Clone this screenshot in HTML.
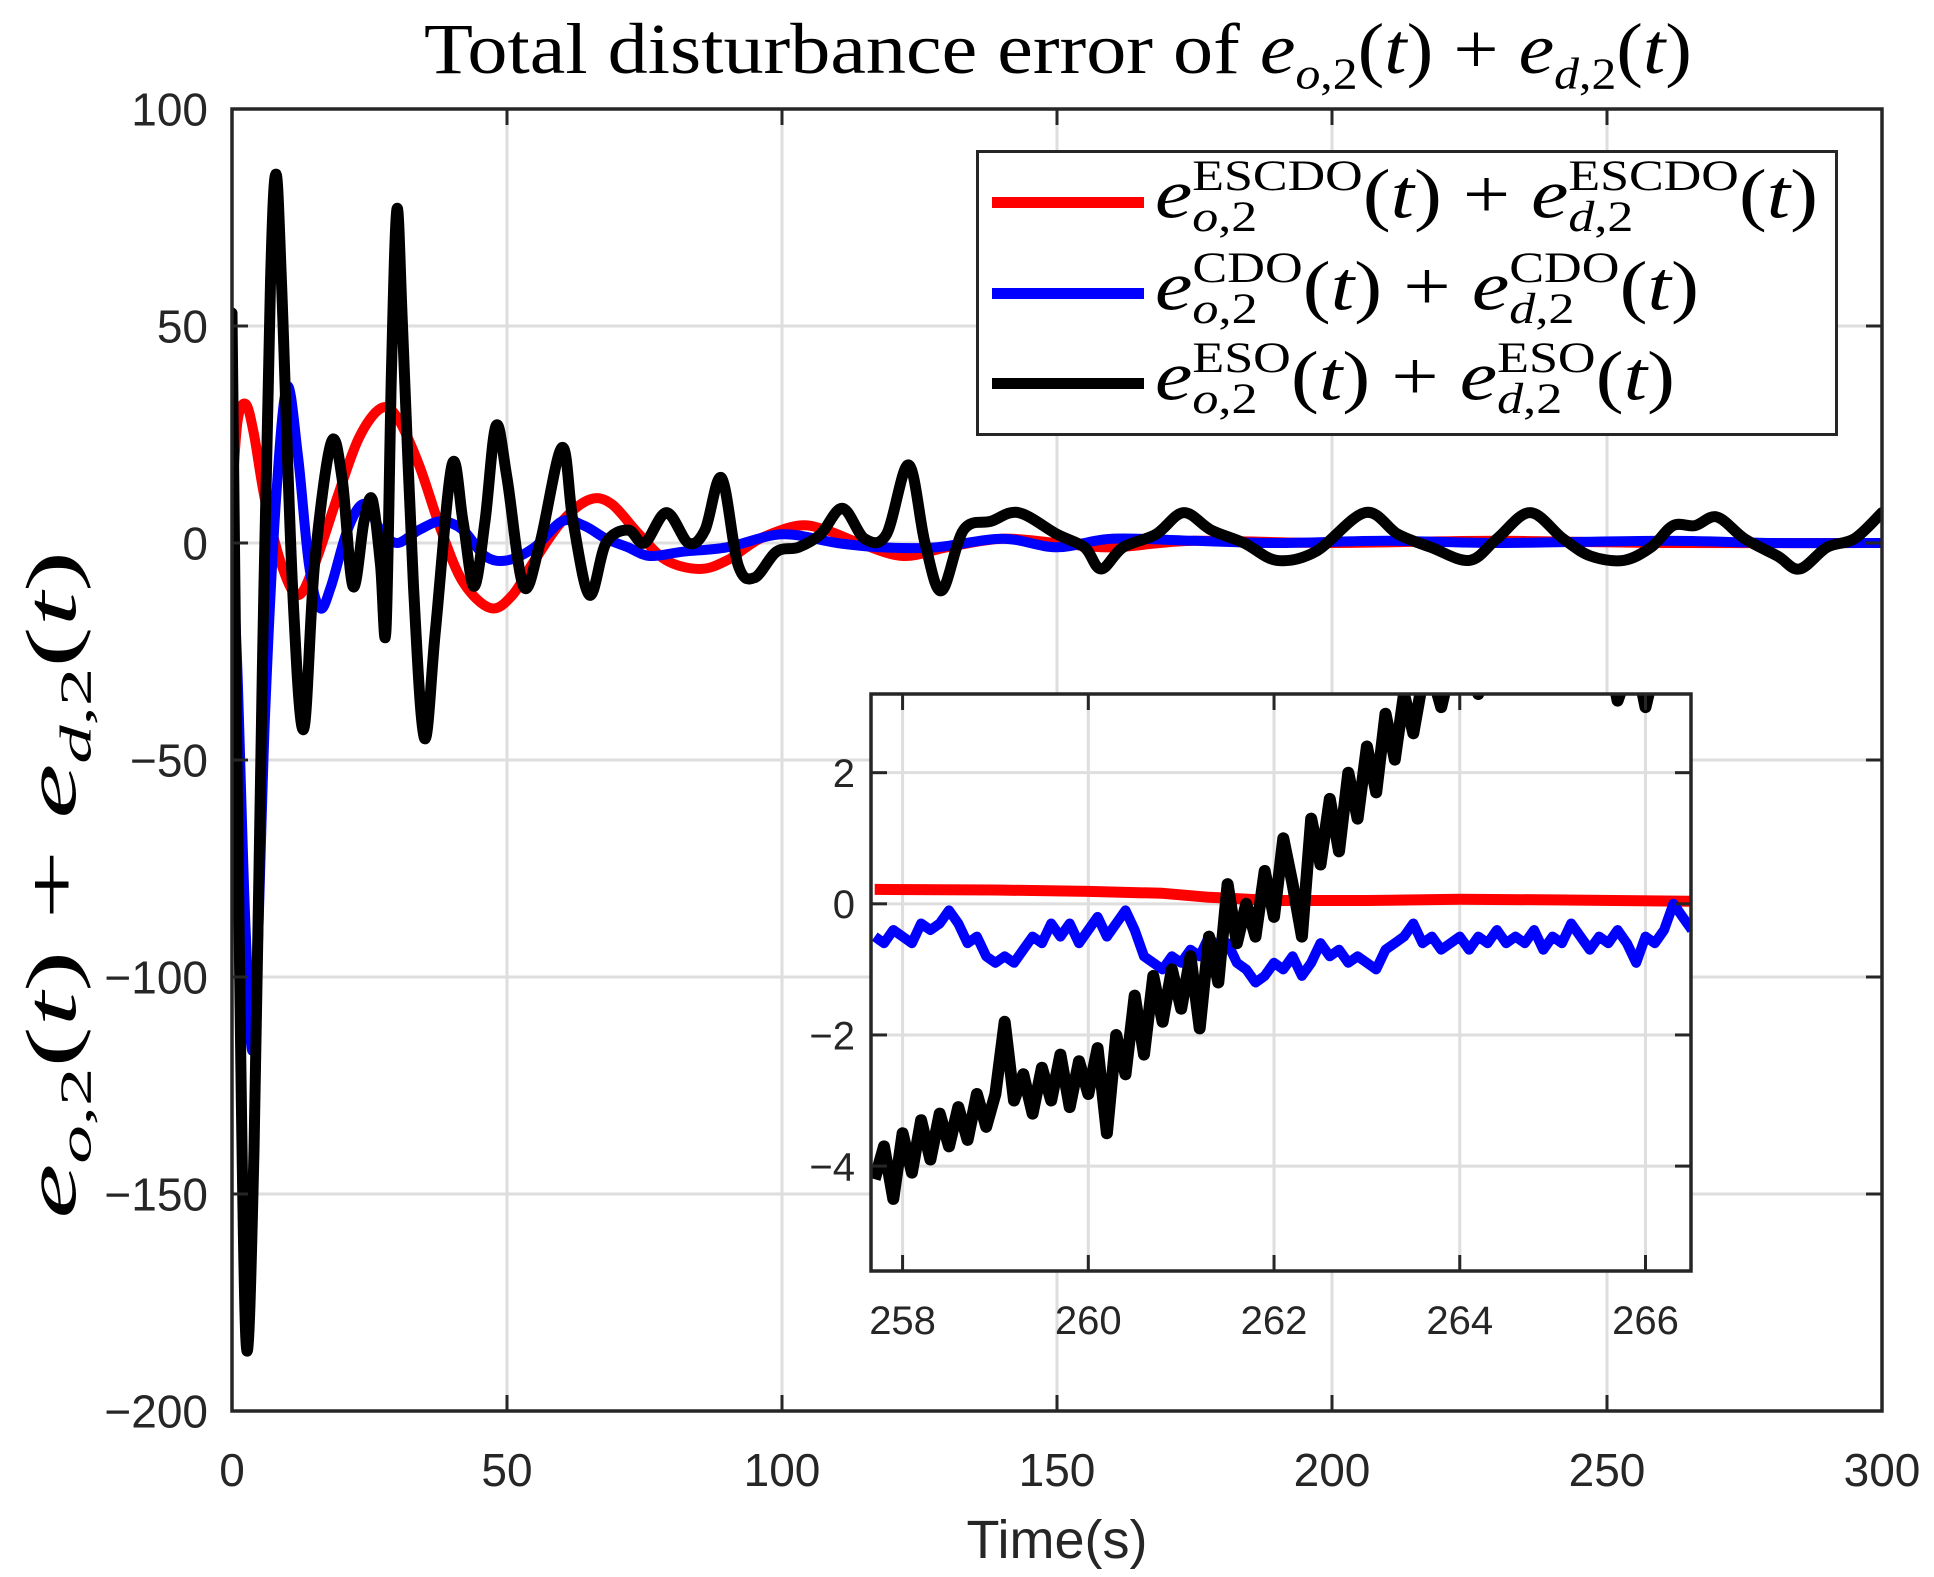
<!DOCTYPE html>
<html><head><meta charset="utf-8"><style>
html,body{margin:0;padding:0;background:#fff;}
#wrap{position:relative;width:1934px;height:1577px;overflow:hidden;background:#fff;}
.serif{font-family:"Liberation Serif",serif;color:#000;}
.m i{font-style:italic;}
.lg{position:absolute;left:1155px;white-space:nowrap;font-family:"Liberation Serif",serif;font-size:70px;line-height:1;transform-origin:0 50%;}
.ss{display:inline-block;vertical-align:middle;line-height:0.95;position:relative;top:-4px;}
.ss span{display:block;font-size:0.62em;}
.fit{white-space:nowrap;display:inline-block;}
</style></head><body>
<div id="wrap">
<div id="title" class="serif m fit" style="position:absolute;left:424px;top:8px;font-size:72px;transform-origin:0 0;">Total disturbance error of <i>e</i><sub style="font-size:0.62em"><i>o</i>,2</sub>(<i>t</i>) + <i>e</i><sub style="font-size:0.62em"><i>d</i>,2</sub>(<i>t</i>)</div>
<div id="ylab" class="serif m fit" style="position:absolute;left:0;top:0;font-size:72px;"><i>e</i><sub style="font-size:0.62em"><i>o</i>,2</sub>(<i>t</i>) + <i>e</i><sub style="font-size:0.62em"><i>d</i>,2</sub>(<i>t</i>)</div>
<svg id="svg" width="1934" height="1577" style="position:absolute;left:0;top:0"></svg>
<div id="legend" style="position:absolute;left:976px;top:150px;width:862px;height:286px;border:3px solid #262626;background:#fff;box-sizing:border-box;">
</div>
<div id="lg1" class="lg m" style="top:160px;"><i>e</i><span class="ss"><span>ESCDO</span><span><i>o</i>,2</span></span>(<i>t</i>) + <i>e</i><span class="ss"><span>ESCDO</span><span><i>d</i>,2</span></span>(<i>t</i>)</div>
<div id="lg2" class="lg m" style="top:252px;"><i>e</i><span class="ss"><span>CDO</span><span><i>o</i>,2</span></span>(<i>t</i>) + <i>e</i><span class="ss"><span>CDO</span><span><i>d</i>,2</span></span>(<i>t</i>)</div>
<div id="lg3" class="lg m" style="top:342px;"><i>e</i><span class="ss"><span>ESO</span><span><i>o</i>,2</span></span>(<i>t</i>) + <i>e</i><span class="ss"><span>ESO</span><span><i>d</i>,2</span></span>(<i>t</i>)</div>
<div style="position:absolute;left:992px;top:197px;width:152px;height:11px;background:#ff0000"></div>
<div style="position:absolute;left:992px;top:288px;width:152px;height:11px;background:#0000ff"></div>
<div style="position:absolute;left:992px;top:378px;width:152px;height:11px;background:#000"></div>
</div>
<script>
// main chart data
const xTicks=[0,50,100,150,200,250,300];
const yTicks=[100,50,0,-50,-100,-150,-200];
const redT=[0,1,2.5,4,6,9,12,15,19,23,27,30,34,38,42,47,51,55,60,65,69,74,79,85,90,96,103,108,114,122,130,140,150,160,175,200,230,260,300];
const redV=[10,28,32,25,10,-5,-12,-5,10,24,31,29,18,3,-9,-15,-12,-4,5,10,9,2,-4,-6,-4,1,4,3,0,-3,-1,1,0,-1,0.5,0,0.5,0,0];
const blueT=[0,1,2.5,4,6,8,10,12,14,16,18,21,24,27,30,34,38,42,46,50,55,60,64,68,72,76,82,90,100,110,118,128,140,150,160,175,190,210,230,260,280,300];
const blueV=[0,-30,-90,-115,-40,10,36,20,-5,-15,-10,3,9,3,0,3,5,3,-3,-4,-1,5,4,1,-1,-3,-2,-1,2,0,-1,-1,1,-1,1,0.5,0,0.5,0,0.5,0,0];
const blackT=[0,1,2.5,4,5.5,7,8,9,11,13,15,18,20,22,24,25.5,27,28,29,30,31,33,35,37,40,42,44,46,48,50,53,56,60,62,65,68,72,75,79,83,86,89,92,95,99,103,107,111,115,119,123,126,129,133,138,143,150,155,158,162,168,173,178,184,190,197,206,212,218,225,230,236,242,247,253,258,262,266,270,275,281,285,290,295,300];
const blackV=[53,-60,-183,-140,-30,60,85,60,-10,-43,-5,23,15,-10,5,10,-5,-20,40,77,50,-10,-45,-20,18,5,-10,5,27,15,-10,0,22,5,-12,0,3,0,7,0,3,15,-5,-8,-2,-1,2,8,1,2,18,0,-11,3,5,7,2,-1,-6,-1,2,7,3,0,-4,-2,7,2,-1,-4,1,7,1,-3,-4,-1,4,4,6,1,-3,-6,-1,1,7];
// inset data
const inXTicks=[258,260,262,264,266];
const inYTicks=[2,0,-2,-4];
const inT=[];for(let i=0;i<89;i++)inT.push(257.7+i*0.1);
const inBlack=[-4.2,-3.7,-4.5,-3.5,-4.1,-3.3,-3.9,-3.2,-3.7,-3.1,-3.6,-2.9,-3.4,-2.9,-1.8,-3.0,-2.6,-3.2,-2.5,-3.0,-2.3,-3.1,-2.4,-2.9,-2.2,-3.5,-2.0,-2.6,-1.4,-2.3,-1.1,-1.8,-1.0,-1.6,-0.8,-1.9,-0.5,-1.2,0.3,-0.6,0.0,-0.5,0.5,-0.2,1.0,0.3,-0.5,1.3,0.6,1.6,0.8,2.0,1.3,2.4,1.7,2.9,2.2,3.2,2.6,3.4,3.5,3.0,3.6,3.4,3.8,3.2,3.6,3.3,3.4,3.5,3.6,3.7,3.8,3.6,3.7,3.8,3.6,3.5,3.7,3.8,3.1,3.5,3.7,3.0,3.6,3.8,3.7,3.8,3.9];
const inBlue=[-0.5,-0.6,-0.4,-0.5,-0.6,-0.3,-0.4,-0.3,-0.1,-0.3,-0.6,-0.5,-0.8,-0.9,-0.8,-0.9,-0.7,-0.5,-0.6,-0.3,-0.5,-0.3,-0.6,-0.4,-0.2,-0.5,-0.3,-0.1,-0.4,-0.8,-0.9,-1.0,-0.8,-0.9,-0.7,-0.8,-0.5,-0.7,-0.6,-0.9,-1.0,-1.2,-1.1,-0.9,-1.0,-0.8,-1.1,-0.9,-0.6,-0.8,-0.7,-0.9,-0.8,-0.9,-1.0,-0.7,-0.6,-0.5,-0.3,-0.6,-0.5,-0.7,-0.6,-0.5,-0.7,-0.5,-0.6,-0.4,-0.6,-0.5,-0.6,-0.4,-0.7,-0.5,-0.6,-0.3,-0.5,-0.7,-0.5,-0.6,-0.4,-0.6,-0.9,-0.5,-0.6,-0.4,0.0,-0.2,-0.4];
const inRedT=[257.7,259,260,260.8,261.3,262,263,264,265,266.5];
const inRedV=[0.22,0.21,0.19,0.16,0.1,0.05,0.05,0.07,0.06,0.04];

const NS='http://www.w3.org/2000/svg';
const svg=document.getElementById('svg');
function mk(tag,attrs,parent){const e=document.createElementNS(NS,tag);for(const k in attrs)e.setAttribute(k,attrs[k]);(parent||svg).appendChild(e);return e;}
const M={l:232,r:1882,t:109,b:1411,x0:0,x1:300,y0:-200,y1:100};
const I={l:871,r:1691,t:694,b:1271,x0:257.66,x1:266.49,y0:-5.6,y1:3.2};
function sx(a,v){return a.l+(v-a.x0)/(a.x1-a.x0)*(a.r-a.l);}
function sy(a,v){return a.b-(v-a.y0)/(a.y1-a.y0)*(a.b-a.t);}
function pathSmooth(a,T,V){
  const P=T.map((t,i)=>[sx(a,t),sy(a,V[i])]);
  let d='M'+P[0][0].toFixed(1)+','+P[0][1].toFixed(1);
  for(let i=0;i<P.length-1;i++){
    const p0=P[Math.max(i-1,0)],p1=P[i],p2=P[i+1],p3=P[Math.min(i+2,P.length-1)];
    const c1=[p1[0]+(p2[0]-p0[0])/6,p1[1]+(p2[1]-p0[1])/6];
    const c2=[p2[0]-(p3[0]-p1[0])/6,p2[1]-(p3[1]-p1[1])/6];
    d+=`C${c1[0].toFixed(1)},${c1[1].toFixed(1)} ${c2[0].toFixed(1)},${c2[1].toFixed(1)} ${p2[0].toFixed(1)},${p2[1].toFixed(1)}`;
  }
  return d;
}
function pathLin(a,T,V){return T.map((t,i)=>(i?'L':'M')+sx(a,t).toFixed(1)+','+sy(a,V[i]).toFixed(1)).join('');}
function axes(a,xt,yt,fs,name){
  const g=mk('g',{});
  
  
  mk('rect',{x:a.l,y:a.t,width:a.r-a.l,height:a.b-a.t,fill:'#fff'},g);
  xt.forEach(v=>{const x=sx(a,v);const l=mk('line',{x1:x,x2:x,y1:a.t,y2:a.b,stroke:'#dedede','stroke-width':3},g);
    });
  yt.forEach(v=>{const y=sy(a,v);const l=mk('line',{x1:a.l,x2:a.r,y1:y,y2:y,stroke:'#dedede','stroke-width':3},g);
    });
  return g;
}
function frame(a,xt,yt,fs,xlY,ylX,prefix){
  const g=mk('g',{});
  
  
  const tl=16;
  xt.forEach(v=>{const x=sx(a,v);
    mk('line',{x1:x,x2:x,y1:a.b,y2:a.b-tl,stroke:'#262626','stroke-width':3},g);
    mk('line',{x1:x,x2:x,y1:a.t,y2:a.t+tl,stroke:'#262626','stroke-width':3},g);
    const t=mk('text',{x:x,y:xlY,'text-anchor':'middle','font-family':'Liberation Sans, sans-serif','font-size':fs,fill:'#262626'},g);
    t.textContent=String(v).replace('-','\u2212');
    });
  yt.forEach(v=>{const y=sy(a,v);
    mk('line',{x1:a.l,x2:a.l+tl,y1:y,y2:y,stroke:'#262626','stroke-width':3},g);
    mk('line',{x1:a.r,x2:a.r-tl,y1:y,y2:y,stroke:'#262626','stroke-width':3},g);
    const t=mk('text',{x:ylX,y:y+fs*0.36,'text-anchor':'end','font-family':'Liberation Sans, sans-serif','font-size':fs,fill:'#262626'},g);
    t.textContent=String(v).replace('-','\u2212');
    });
  mk('rect',{x:a.l,y:a.t,width:a.r-a.l,height:a.b-a.t,fill:'none',stroke:'#262626','stroke-width':3.5},g);
}
mk('defs',{}).innerHTML=`<clipPath id="cm"><rect x="${M.l}" y="${M.t}" width="${M.r-M.l}" height="${M.b-M.t}"/></clipPath><clipPath id="ci"><rect x="${I.l}" y="${I.t}" width="${I.r-I.l}" height="${I.b-I.t}"/></clipPath>`;
axes(M,xTicks,yTicks,46,'main-grid');
const gm=mk('g',{'clip-path':'url(#cm)'});
let p;
p=mk('path',{d:pathSmooth(M,redT,redV),fill:'none',stroke:'#ff0000','stroke-width':10,'stroke-linejoin':'round','stroke-linecap':'round'},gm);

p=mk('path',{d:pathSmooth(M,blueT,blueV),fill:'none',stroke:'#0000ff','stroke-width':10,'stroke-linejoin':'round','stroke-linecap':'round'},gm);

p=mk('path',{d:pathSmooth(M,blackT,blackV),fill:'none',stroke:'#000','stroke-width':11,'stroke-linejoin':'round','stroke-linecap':'round'},gm);

frame(M,xTicks,yTicks,46,1486,208,'main');
const xt=mk('text',{x:(M.l+M.r)/2,y:1558,'text-anchor':'middle','font-family':'Liberation Sans, sans-serif','font-size':54,fill:'#262626'});
xt.textContent='Time(s)';

axes(I,inXTicks,inYTicks,40,'inset-grid');
const gi=mk('g',{'clip-path':'url(#ci)'});
p=mk('path',{d:pathLin(I,inRedT,inRedV),fill:'none',stroke:'#ff0000','stroke-width':11,'stroke-linejoin':'round'},gi);

p=mk('path',{d:pathLin(I,inT,inBlue),fill:'none',stroke:'#0000ff','stroke-width':10,'stroke-linejoin':'round'},gi);

p=mk('path',{d:pathLin(I,inT,inBlack),fill:'none',stroke:'#000','stroke-width':12,'stroke-linejoin':'round'},gi);

frame(I,inXTicks,inYTicks,40,1334,855,'inset');
function fitW(id,w){const e=document.getElementById(id);const cw=e.getBoundingClientRect().width;return w/cw;}
(function(){
  const t=document.getElementById('title');t.style.transform='scaleX('+fitW('title',1268)+')';
  [['lg1',663],['lg2',544],['lg3',520]].forEach(([id,w])=>{const e=document.getElementById(id);e.style.transform='scaleX('+fitW(id,w)+')';});
  const y=document.getElementById('ylab');const r=y.getBoundingClientRect();const s=668/r.width;
  y.style.left=(56-r.width/2)+'px';y.style.top=(885-r.height/2)+'px';
  y.style.transform='rotate(-90deg) scaleX('+s+')';
})();
</script>
</body></html>
